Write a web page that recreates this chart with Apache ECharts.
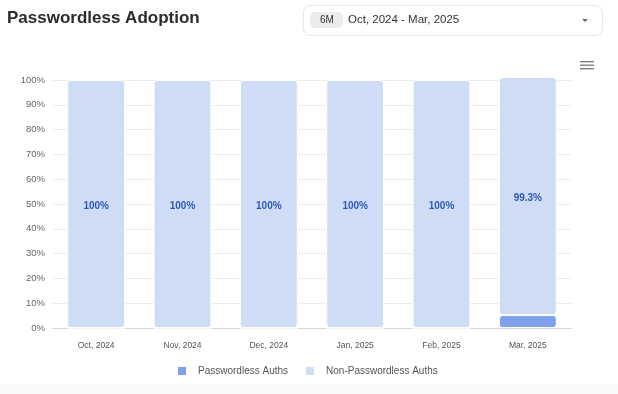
<!DOCTYPE html>
<html>
<head>
<meta charset="utf-8">
<script src="https://cdn.jsdelivr.net/npm/echarts@6/dist/echarts.min.js"></script>
<style>
  html, body { margin: 0; padding: 0; background: #fff; }
  #chart { width: 618px; height: 394px; }
</style>
</head>
<body>
<div id="chart"></div>
<script>
// Data
const categories = ['Oct, 2024', 'Nov, 2024', 'Dec, 2024', 'Jan, 2025', 'Feb, 2025', 'Mar, 2025'];
const passwordlessAuths = [0, 0, 0, 0, 0, 5.2];
const nonPasswordlessAuths = [100, 100, 100, 100, 100, 96];
const barLabels = ['100%', '100%', '100%', '100%', '100%', '99.3%'];
const yTicks = [0, 10, 20, 30, 40, 50, 60, 70, 80, 90, 100];

const FONT = '"Liberation Sans", Arial, Helvetica, sans-serif';
const chart = echarts.init(document.getElementById('chart'));

chart.setOption({
  animation: false,
  textStyle: { fontFamily: FONT },
  title: {
    text: 'Passwordless Adoption',
    left: 2, top: 5,
    textStyle: { fontFamily: FONT, fontSize: 17, fontWeight: 'bold', color: '#2b2b2b' }
  },
  legend: {
    left: 176, top: 365,
    padding: 0,
    itemWidth: 10, itemHeight: 10, itemGap: 16,
    icon: 'rect',
    textStyle: { fontFamily: FONT, fontSize: 10, color: '#555', padding: [0, 0, 0, 6] },
    data: ['Passwordless Auths', 'Non-Passwordless Auths']
  },
  grid: { left: 53, right: 47, top: 80, bottom: 66 },
  xAxis: {
    type: 'category',
    data: categories,
    axisLine: { lineStyle: { color: '#d6d6d6' } },
    axisTick: { length: 4, lineStyle: { color: '#d6d6d6' } },
    axisLabel: { fontFamily: FONT, fontSize: 8.5, color: '#555', margin: 13 }
  },
  yAxis: {
    type: 'value',
    min: yTicks[0], max: yTicks[yTicks.length - 1], interval: yTicks[1] - yTicks[0],
    axisLine: { show: false },
    axisTick: { show: false },
    splitLine: { lineStyle: { color: '#ececec' } },
    axisLabel: { fontFamily: FONT, fontSize: 9.5, color: '#666', margin: 8, formatter: '{value}%' }
  },
  series: [
    {
      name: 'Passwordless Auths',
      type: 'bar',
      stack: 'total',
      barWidth: '67%',
      clip: false,
      data: passwordlessAuths,
      itemStyle: { color: '#7ea2ea', borderColor: '#fff', borderWidth: 1, borderRadius: 3 }
    },
    {
      name: 'Non-Passwordless Auths',
      type: 'bar',
      stack: 'total',
      barWidth: '67%',
      clip: false,
      data: nonPasswordlessAuths,
      itemStyle: { color: '#cedcf6', borderColor: '#fff', borderWidth: 1, borderRadius: 3 },
      label: {
        show: true,
        position: 'inside',
        offset: [0, 2],
        fontFamily: FONT, fontSize: 10, fontWeight: 'bold', color: '#2f58b8',
        formatter: function (p) { return barLabels[p.dataIndex]; }
      }
    }
  ],
  graphic: [
    {
      type: 'rect', left: 303, top: 5,
      shape: { width: 299, height: 30, r: 7 },
      style: { fill: '#fff', stroke: '#e6e6e6', lineWidth: 1 }
    },
    {
      type: 'rect', left: 310, top: 12,
      shape: { width: 33, height: 16, r: 5 },
      style: { fill: '#ececec' }
    },
    {
      type: 'text', left: 320, top: 15,
      style: { text: '6M', font: '10px ' + FONT, fill: '#333' }
    },
    {
      type: 'text', left: 348, top: 14,
      style: { text: 'Oct, 2024 - Mar, 2025', font: '11.5px ' + FONT, fill: '#333' }
    },
    {
      type: 'polygon',
      shape: { points: [[582, 19], [588, 19], [585, 22]] },
      style: { fill: '#666' }
    },
    { type: 'rect', shape: { x: 580, y: 61, width: 14, height: 1.4 }, style: { fill: '#808080' } },
    { type: 'rect', shape: { x: 580, y: 64.5, width: 14, height: 1.4 }, style: { fill: '#808080' } },
    { type: 'rect', shape: { x: 580, y: 68, width: 14, height: 1.4 }, style: { fill: '#808080' } },
    {
      type: 'rect', left: 0, top: 384,
      shape: { width: 618, height: 10 },
      style: { fill: '#fafafa' }
    }
  ]
});
</script>
</body>
</html>
